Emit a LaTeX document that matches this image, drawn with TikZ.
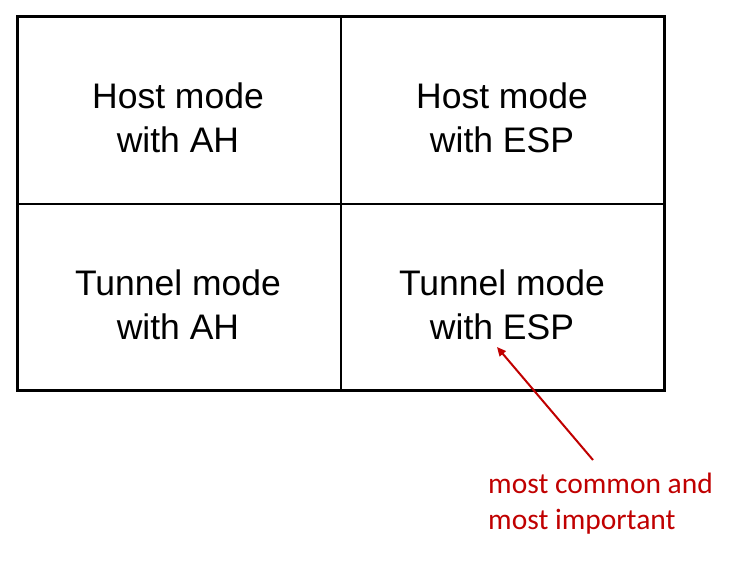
\documentclass[tikz,border=0pt]{standalone}
\usepackage{fontspec}
\setmainfont{Liberation Sans}
\newfontfamily\calib{Carlito}
\usetikzlibrary{arrows.meta}
\definecolor{darkred}{HTML}{C00000}
\begin{document}
\begin{tikzpicture}[x=1pt,y=-1pt,
  celltext/.style={align=center,inner sep=0pt,font=\fontsize{35.5}{44}\selectfont},
  note/.style={align=left,inner sep=0pt,anchor=north west,text=darkred,font=\calib\fontsize{29.5}{36}\selectfont},
  pointer/.style={draw=darkred,line width=2pt,-{Triangle[length=9pt,width=8pt]}}]
\useasboundingbox (0,0) rectangle (741,561);
\draw[line width=1.5pt] (341,17) -- (341,390);
\draw[line width=1.5pt] (17,204) -- (664,204);
\draw[line width=3pt] (17,17) rectangle (664,390);
\node[celltext] (hah) at (178,118) {Host mode\\with AH};
\node[celltext] (hesp) at (502,118) {Host mode\\with ESP};
\node[celltext] (tah) at (178,305) {Tunnel mode\\with AH};
\node[celltext] (tesp) at (502,305) {Tunnel mode\\with ESP};
\node[note] (n) at (488,473) {most common and\\most important};
\coordinate (tail) at (593,460);
\coordinate (tip) at (497,347);
\draw[pointer] (tail) -- (tip);
\end{tikzpicture}
\end{document}
